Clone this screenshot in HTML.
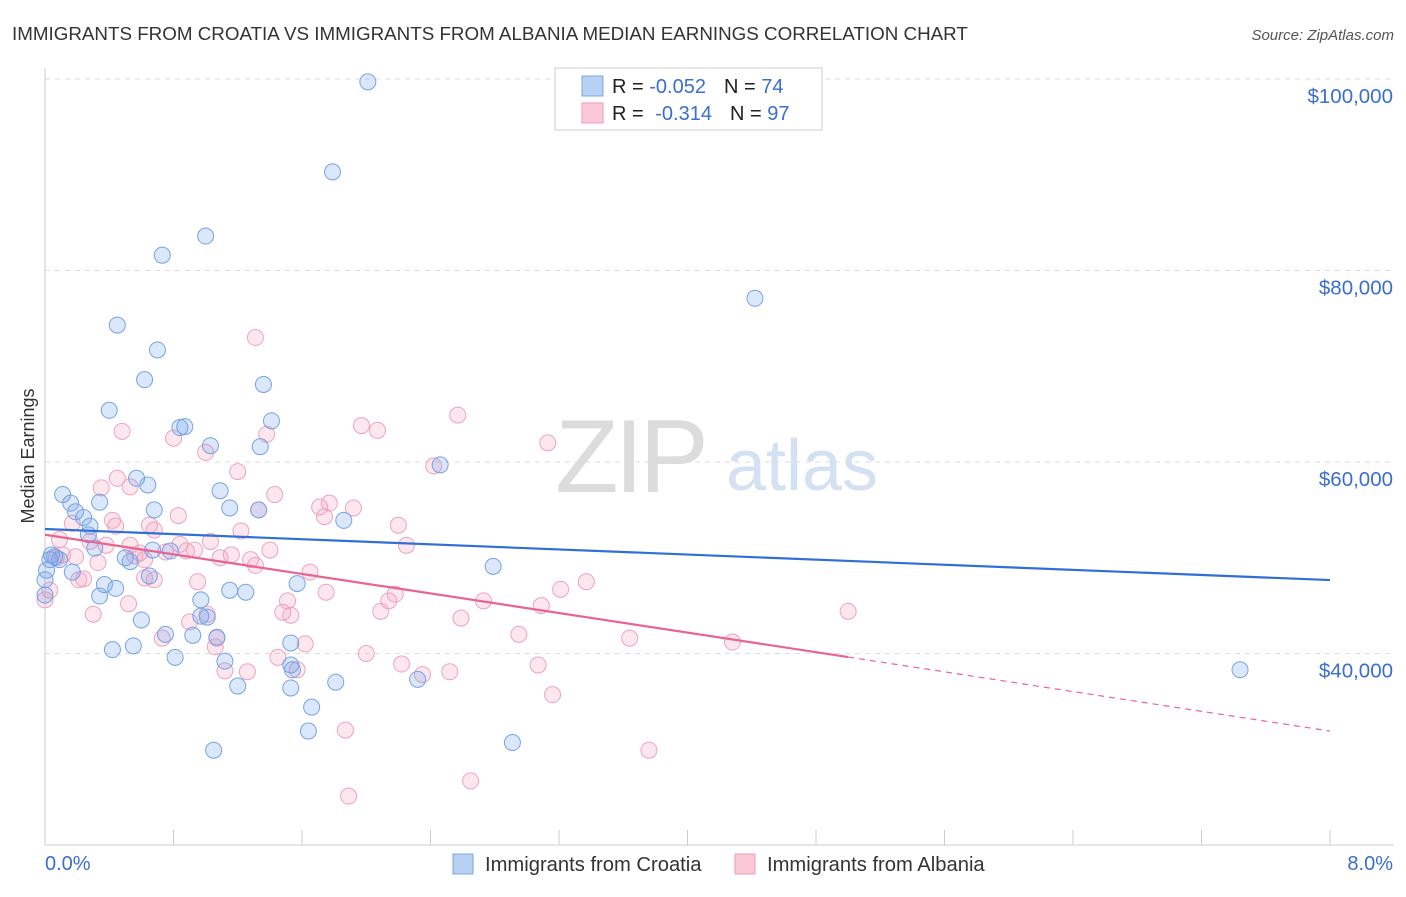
<!DOCTYPE html>
<html><head><meta charset="utf-8"><style>
body{margin:0;background:#fff;font-family:"Liberation Sans",sans-serif;}
svg text{font-family:"Liberation Sans",sans-serif;}
</style></head><body>
<svg id="chart" width="1406" height="892" xmlns="http://www.w3.org/2000/svg">
<text x="12" y="40" font-size="18.8" fill="#333">IMMIGRANTS FROM CROATIA VS IMMIGRANTS FROM ALBANIA MEDIAN EARNINGS CORRELATION CHART</text>
<text x="1394" y="40" font-size="15" fill="#555" text-anchor="end" font-style="italic">Source: ZipAtlas.com</text>
<text x="34" y="456" font-size="18" fill="#333" text-anchor="middle" transform="rotate(-90 34 456)">Median Earnings</text>
<g>
<text x="630" y="492" font-size="104" fill="#dcdcdc" text-anchor="middle" font-family="Liberation Serif" letter-spacing="-4">ZIP</text>
<text x="802" y="490" font-size="72" fill="#d3e1f3" text-anchor="middle">atlas</text>
</g>
<g id="grid"></g><g id="axes"></g><g id="pts"></g><g id="lines"></g>
<g>
<rect x="555" y="68" width="267" height="62" fill="#fff" stroke="#ccc"/>
<rect x="582" y="76" width="21" height="20" fill="#b7d0f3" stroke="#7ea6e6"/>
<rect x="582" y="103" width="21" height="20" fill="#fbc8d8" stroke="#f09ab8"/>
<text x="612" y="93" font-size="20" fill="#222">R = <tspan fill="#3a6fd0">-0.052</tspan><tspan dx="18">N = </tspan><tspan fill="#3a6fd0">74</tspan></text>
<text x="612" y="120" font-size="20" fill="#222">R = <tspan dx="6" fill="#3a6fd0">-0.314</tspan><tspan dx="18">N = </tspan><tspan fill="#3a6fd0">97</tspan></text>
</g>
<g>
<rect x="453" y="854" width="20" height="20" fill="#b7d0f3" stroke="#7ea6e6"/>
<text x="485" y="871" font-size="20.2" fill="#333">Immigrants from Croatia</text>
<rect x="735" y="854" width="20" height="20" fill="#fbc8d8" stroke="#f09ab8"/>
<text x="767" y="871" font-size="20.2" fill="#333">Immigrants from Albania</text>
</g>
</svg>
<script>
const yTicks=[100,80,60,40];
const yTickLabels=["$100,000","$80,000","$60,000","$40,000"];
const xTickLabels=["0.0%","8.0%"];
const croatiaX=[2.01,1.79,1.00,0.73,4.42,0.45,0.70,0.62,1.36,0.40,1.41,0.84,0.87,1.03,1.34,2.46,0.57,0.64,0.11,0.34,0.16,1.09,0.68,1.15,1.33,1.86,0.24,0.28,0.27,0.31,0.78,0.50,0.53,0.67,0.06,0.03,0.17,0.65,0.37,0.44,0.34,1.57,2.79,0.97,1.15,1.25,0.97,0.60,1.01,0.75,0.92,1.07,1.53,0.42,0.55,0.81,1.12,1.53,1.54,1.81,2.32,1.20,1.53,1.66,1.64,1.05,2.91,7.44,0,0,0.01,0.04,0.09,0.19];
const croatiaY=[99.7,90.3,83.6,81.6,77.1,74.3,71.7,68.6,68.1,65.4,64.3,63.6,63.7,61.7,61.6,59.7,58.3,57.6,56.6,55.8,55.7,57.0,55.0,55.2,55.0,53.9,54.2,53.3,52.4,51.0,50.7,50.0,49.6,50.8,50.1,49.8,48.5,48.1,47.2,46.8,46.0,47.3,49.1,45.6,46.6,46.4,43.9,43.5,43.8,42.0,41.9,41.7,41.1,40.4,40.8,39.6,39.2,38.8,38.3,37.0,37.3,36.6,36.4,34.4,31.9,29.9,30.7,38.3,47.7,46.1,48.7,50.3,49.8,54.8];
const albaniaX=[1.31,2.57,1.97,2.07,0.48,1.38,3.13,0.80,2.42,1.20,1.00,0.45,0.53,0.35,1.43,1.33,1.71,1.92,1.77,0.83,1.74,0.17,0.44,0.42,0.65,0.68,2.20,1.03,1.22,1.40,2.25,0.09,0.28,0.38,0.59,0.75,0.88,0.84,0.93,1.16,1.31,1.09,0.19,0.07,0.33,0.56,0.62,1.65,0.24,0.62,0.68,0.95,1.75,2.18,2.14,2.73,1.51,2.09,1.48,3.09,3.37,3.21,0.52,0.30,1.01,2.59,1.53,0.90,2.95,3.64,4.28,0.73,1.07,1.06,1.62,2.00,1.45,2.22,3.07,2.52,1.12,2.35,1.26,1.57,5.00,3.16,1.87,3.76,2.65,1.89,0,0.03,0.11,0.21,0.53,1.28];
const albaniaY=[73.0,64.9,63.8,63.3,63.2,62.9,62.0,62.5,59.6,59.0,61.0,58.3,57.4,57.3,56.6,55.0,55.3,55.2,55.7,54.4,54.3,53.6,53.3,53.9,53.4,52.9,53.4,51.7,52.8,50.8,51.3,51.9,51.7,51.3,50.5,50.6,50.7,51.4,50.8,50.3,49.2,50.0,50.1,50.0,49.5,50.2,49.8,48.5,47.8,47.9,47.7,47.5,46.4,46.2,45.5,45.5,45.5,44.4,44.3,45.0,47.5,46.7,45.2,44.1,44.1,43.7,44.0,43.3,42.0,41.6,41.2,41.6,41.6,40.7,41.0,40.0,39.6,38.9,38.8,38.1,38.2,37.8,38.1,38.3,44.4,35.7,32.0,29.9,26.7,25.1,45.6,46.6,50.3,47.7,51.3,49.8];
const croatiaTrend=[53.0,47.67];
const albaniaTrend=[52.4,39.63,31.9];
const albaniaSolidEnd=5.0;

const NS="http://www.w3.org/2000/svg";
const X0=45,X1=1330,XMAX=8;
const sx=v=>X0+(v/XMAX)*(X1-X0);
const sy=v=>79+(100-v)*9.575;
function mk(tag,attrs,parent){const e=document.createElementNS(NS,tag);for(const k in attrs)e.setAttribute(k,attrs[k]);parent.appendChild(e);return e;}
const grid=document.getElementById('grid'),axes=document.getElementById('axes'),pts=document.getElementById('pts'),lines=document.getElementById('lines');
yTicks.forEach((t,i)=>{
 const l=mk('line',{x1:X0,x2:1394,y1:sy(t),y2:sy(t),stroke:'#ddd','stroke-dasharray':'5,5'},grid);
 
 
 const tx=mk('text',{x:1393,y:sy(t)+24,'font-size':20.5,fill:'#3a6fd0','text-anchor':'end'},axes);
 tx.textContent=yTickLabels[i];
 
 
});
const ax=mk('line',{x1:X0,x2:X0,y1:68,y2:845,stroke:'#ccc'},axes);


const bx=mk('line',{x1:X0,x2:1394,y1:845,y2:845,stroke:'#ccc'},axes);


for(let i=0;i<=10;i++){
 const t=mk('line',{x1:sx(i*0.8),x2:sx(i*0.8),y1:830,y2:845,stroke:'#ccc'},axes);
 
 
}
[[0,'start',45],[8,'end',1393]].forEach((d,i)=>{
 const t=mk('text',{x:d[2],y:870,'font-size':20,fill:'#3a6fd0','text-anchor':d[1]},axes);
 t.textContent=xTickLabels[i];
 
 
});
function drawPts(xs,ys,fill,stroke,name){
 xs.forEach((x,i)=>{
  const c=mk('circle',{cx:sx(x),cy:sy(ys[i]),r:8,fill:fill,stroke:stroke,'stroke-width':1},pts);
  
  
 });
}
drawPts(albaniaX,albaniaY,'rgba(243,160,190,0.25)','#eea3bd','albania-point');
drawPts(croatiaX,croatiaY,'rgba(110,160,235,0.25)','#76a3e4','croatia-point');
const bl=mk('line',{x1:sx(0),y1:sy(croatiaTrend[0]),x2:sx(8),y2:sy(croatiaTrend[1]),stroke:'#2f6fd6','stroke-width':2.2},lines);


const pl=mk('line',{x1:sx(0),y1:sy(albaniaTrend[0]),x2:sx(albaniaSolidEnd),y2:sy(albaniaTrend[1]),stroke:'#e8658f','stroke-width':2.2},lines);


const pd=mk('line',{x1:sx(albaniaSolidEnd),y1:sy(albaniaTrend[1]),x2:sx(8),y2:sy(albaniaTrend[2]),stroke:'#e8658f','stroke-width':1.2,'stroke-dasharray':'6,5'},lines);


</script>
</body></html>
